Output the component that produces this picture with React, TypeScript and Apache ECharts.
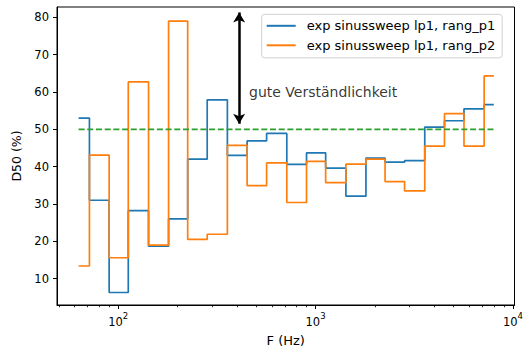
import React, { useEffect, useRef } from "react";
import * as echarts from "echarts";

// Third-octave band centre frequencies (Hz)
const freqs = [63, 80, 100, 125, 160, 200, 250, 315, 400, 500, 630, 800, 1000, 1250, 1600, 2000, 2500, 3150, 4000, 5000, 6300, 8000];
// D50 (%) values
const rangP1 = [53.0, 31.0, 6.3, 28.2, 18.7, 26.0, 42.0, 57.9, 43.0, 46.9, 48.9, 40.6, 43.7, 39.6, 32.1, 42.3, 41.2, 41.6, 50.6, 52.3, 55.5, 56.6];
const rangP2 = [13.4, 43.1, 15.6, 62.7, 19.0, 79.0, 20.5, 21.9, 45.7, 34.9, 41.0, 30.4, 41.4, 35.7, 40.7, 42.0, 36.0, 33.5, 45.5, 54.2, 45.5, 64.3];
const threshold = 50;
const seriesNames = ["exp sinussweep lp1, rang_p1", "exp sinussweep lp1, rang_p2"];
const yTicks = [10, 20, 30, 40, 50, 60, 70, 80];
const xMajorExps = [2, 3, 4];
const xMinorFreqs = [50, 60, 70, 80, 90, 200, 300, 400, 500, 600, 700, 800, 900, 2000, 3000, 4000, 5000, 6000, 7000, 8000, 9000];
const arrowFreq = 410;
const arrowRange = [51.5, 81.3];
const annotationText = "gute Verständlichkeit";
const annotationPos = [460, 60];

const xMin = 1.69;
const xMax = 4.008;
const yMin = 2.95;
const yMax = 82.76;

function stepMid(xs: number[], ys: number[]) {
  const pts: number[][] = [];
  for (let i = 0; i < xs.length; i++) {
    const left = i === 0 ? xs[0] : (xs[i - 1] + xs[i]) / 2;
    const right = i === xs.length - 1 ? xs[i] : (xs[i] + xs[i + 1]) / 2;
    pts.push([Math.log10(left), ys[i]], [Math.log10(right), ys[i]]);
  }
  return pts;
}

const FONT = "DejaVu Sans";

export default function App() {
  const ref = useRef<HTMLDivElement>(null);
  useEffect(() => {
    if (!ref.current) return;
    const chart = echarts.init(ref.current, null, { renderer: "svg" });
    const lx = Math.log10(arrowFreq);
    chart.setOption({
      animation: false,
      textStyle: { fontFamily: FONT },
      grid: {
        left: 57,
        right: 11.5,
        top: 7,
        bottom: 47,
        show: true,
        borderColor: "#000",
        borderWidth: 1,
        containLabel: false,
      },
      legend: {
        orient: "vertical",
        left: 261.7,
        top: 14.3,
        data: seriesNames.map((n) => ({ name: n, icon: "rect" })),
        itemWidth: 29,
        itemHeight: 2,
        itemGap: 6.5,
        padding: [5, 7, 6, 5],
        backgroundColor: "#fff",
        borderColor: "#d0d0d0",
        borderWidth: 1,
        borderRadius: 3,
        textStyle: { fontFamily: FONT, fontSize: 13, color: "#000", padding: [0, 0, 0, 6] },
      },
      xAxis: [
        {
          type: "value",
          min: xMin,
          max: xMax,
          name: "F (Hz)",
          nameLocation: "middle",
          nameGap: 29,
          nameTextStyle: { fontFamily: FONT, fontSize: 13, color: "#000" },
          axisLine: { show: true, lineStyle: { color: "#000", width: 1 } },
          axisTick: { show: true, length: 4, lineStyle: { color: "#000", width: 1 }, customValues: xMajorExps },
          axisLabel: {
            show: true,
            customValues: xMajorExps,
            margin: 6,
            fontFamily: FONT,
            fontSize: 11,
            color: "#000",
            formatter: (v: number) => {
              const e = Math.round(v);
              return `{b|10}{s|${e}}`;
            },
            rich: {
              b: { fontFamily: FONT, fontSize: 11.5, color: "#000", lineHeight: 17, verticalAlign: "bottom" },
              s: { fontFamily: FONT, fontSize: 8.5, color: "#000", lineHeight: 17, verticalAlign: "top" },
            },
          },
          splitLine: { show: false },
        },
        {
          type: "value",
          min: xMin,
          max: xMax,
          position: "bottom",
          axisLine: { show: false },
          axisTick: {
            show: true,
            length: 2.3,
            lineStyle: { color: "#000", width: 0.8 },
            customValues: xMinorFreqs.map((f) => Math.log10(f)),
          },
          axisLabel: { show: false },
          splitLine: { show: false },
        },
      ],
      yAxis: {
        type: "value",
        min: yMin,
        max: yMax,
        name: "D50 (%)",
        nameLocation: "middle",
        nameGap: 32,
        nameTextStyle: { fontFamily: FONT, fontSize: 12.5, color: "#000" },
        axisLine: { show: true, lineStyle: { color: "#000", width: 1 } },
        axisTick: { show: true, length: 4, lineStyle: { color: "#000", width: 1 }, customValues: yTicks },
        axisLabel: {
          show: true,
          customValues: yTicks,
          margin: 8,
          fontFamily: FONT,
          fontSize: 11.5,
          color: "#000",
        },
        splitLine: { show: false },
      },
      series: [
        {
          name: seriesNames[0],
          type: "line",
          xAxisIndex: 0,
          data: stepMid(freqs, rangP1),
          showSymbol: false,
          symbol: "none",
          color: "#1f77b4",
          lineStyle: { color: "#1f77b4", width: 1.7 },
        },
        {
          name: seriesNames[1],
          type: "line",
          xAxisIndex: 0,
          data: stepMid(freqs, rangP2),
          showSymbol: false,
          symbol: "none",
          color: "#ff7f0e",
          lineStyle: { color: "#ff7f0e", width: 1.7 },
        },
        {
          name: "threshold",
          type: "line",
          xAxisIndex: 0,
          data: [
            [Math.log10(freqs[0]), threshold],
            [Math.log10(freqs[freqs.length - 1]), threshold],
          ],
          showSymbol: false,
          symbol: "none",
          lineStyle: { color: "#2ca02c", width: 1.7, type: [6, 2.7] },
          markLine: {
            silent: true,
            symbol: ["arrow", "arrow"],
            symbolSize: [9, 10],
            label: { show: false },
            lineStyle: { color: "#000", width: 2.5, type: "solid" },
            data: [[{ coord: [lx, arrowRange[0]] }, { coord: [lx, arrowRange[1]] }]],
          },
        },
        {
          name: "annotation",
          type: "scatter",
          xAxisIndex: 0,
          symbolSize: 0,
          data: [[Math.log10(annotationPos[0]), annotationPos[1]]],
          label: {
            show: true,
            position: "right",
            distance: 0,
            formatter: annotationText,
            fontFamily: FONT,
            fontSize: 14,
            color: "#000",
          },
        },
      ],
    });
    return () => chart.dispose();
  }, []);
  return <div ref={ref} style={{ width: 526, height: 352, position: "absolute", left: 0, top: 0 }} />;
}
